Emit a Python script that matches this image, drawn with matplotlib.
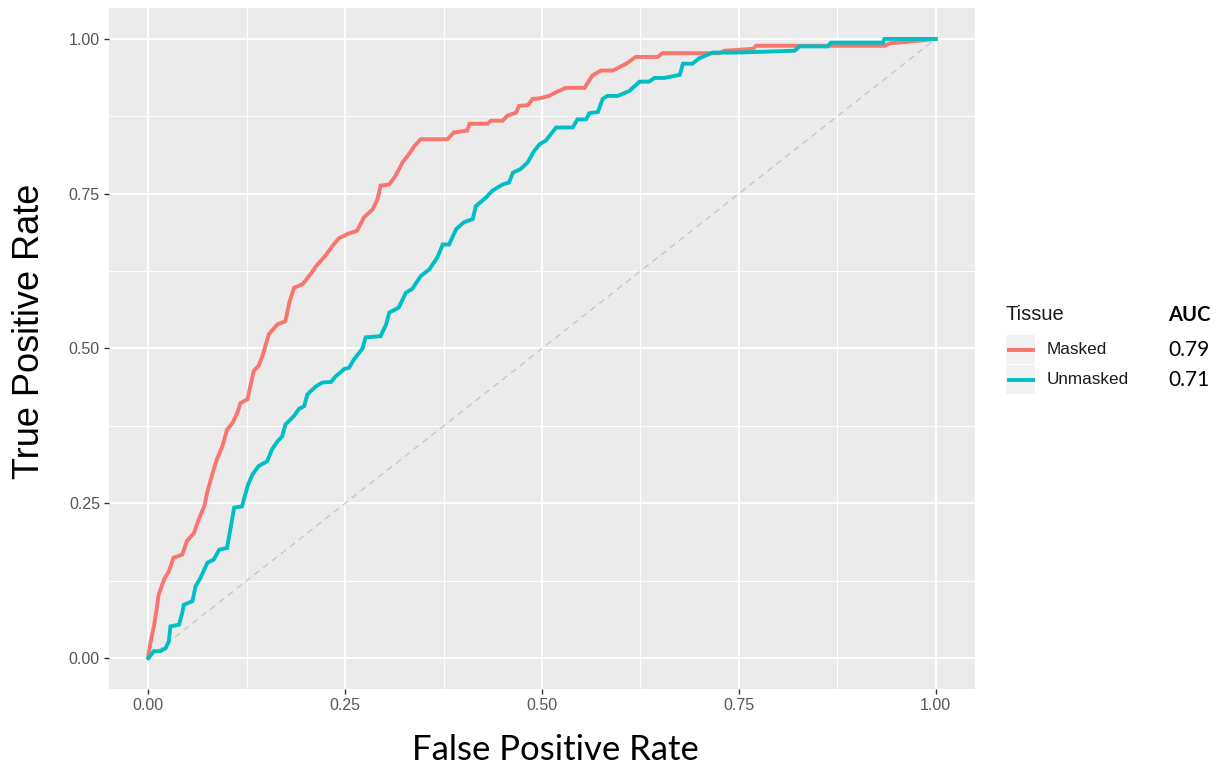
import matplotlib
matplotlib.use("Agg")
import matplotlib.pyplot as plt
from matplotlib.lines import Line2D
from matplotlib.patches import Rectangle

plt.rcParams["font.family"] = ["Liberation Sans", "DejaVu Sans"]

# ROC curve points (false positive rate, true positive rate)
masked_fpr = [0.000, 0.000, 0.003, 0.007, 0.011, 0.013, 0.020, 0.026, 0.032, 0.043, 0.049, 0.058,
              0.064, 0.071, 0.075, 0.081, 0.087, 0.094, 0.100, 0.107, 0.113, 0.117, 0.126, 0.130,
              0.134, 0.140, 0.145, 0.150, 0.153, 0.164, 0.174, 0.179, 0.185, 0.196, 0.206, 0.213,
              0.225, 0.234, 0.242, 0.253, 0.265, 0.274, 0.285, 0.291, 0.295, 0.306, 0.314, 0.323,
              0.331, 0.338, 0.346, 0.380, 0.388, 0.405, 0.408, 0.431, 0.435, 0.450, 0.456, 0.467,
              0.471, 0.482, 0.488, 0.497, 0.509, 0.518, 0.530, 0.554, 0.564, 0.575, 0.590, 0.607,
              0.619, 0.647, 0.653, 0.725, 0.732, 0.768, 0.772, 0.935, 0.942, 0.961, 1.000]
masked_tpr = [0.000, 0.005, 0.027, 0.051, 0.083, 0.102, 0.127, 0.140, 0.162, 0.167, 0.189, 0.202,
              0.224, 0.245, 0.269, 0.296, 0.321, 0.342, 0.369, 0.380, 0.396, 0.412, 0.418, 0.442,
              0.464, 0.472, 0.488, 0.510, 0.523, 0.539, 0.544, 0.574, 0.598, 0.604, 0.620, 0.633,
              0.650, 0.666, 0.678, 0.685, 0.690, 0.712, 0.725, 0.741, 0.763, 0.765, 0.779, 0.801,
              0.814, 0.827, 0.838, 0.838, 0.849, 0.852, 0.863, 0.863, 0.868, 0.868, 0.876, 0.881,
              0.892, 0.893, 0.903, 0.904, 0.908, 0.914, 0.921, 0.921, 0.941, 0.949, 0.949, 0.960,
              0.971, 0.971, 0.977, 0.977, 0.981, 0.984, 0.989, 0.989, 0.993, 0.995, 1.000]

unmasked_fpr = [0.000, 0.007, 0.015, 0.022, 0.026, 0.028, 0.039, 0.043, 0.045, 0.056, 0.060, 0.066,
                0.075, 0.083, 0.090, 0.100, 0.104, 0.109, 0.119, 0.126, 0.132, 0.140, 0.151, 0.157,
                0.164, 0.170, 0.174, 0.185, 0.191, 0.198, 0.202, 0.213, 0.221, 0.232, 0.238, 0.249,
                0.255, 0.261, 0.272, 0.276, 0.295, 0.302, 0.306, 0.318, 0.327, 0.335, 0.346, 0.357,
                0.367, 0.374, 0.382, 0.391, 0.401, 0.412, 0.416, 0.429, 0.437, 0.450, 0.458, 0.463,
                0.473, 0.482, 0.490, 0.497, 0.505, 0.518, 0.539, 0.545, 0.556, 0.560, 0.571, 0.577,
                0.583, 0.596, 0.611, 0.624, 0.636, 0.643, 0.655, 0.675, 0.679, 0.691, 0.700, 0.713,
                0.717, 0.747, 0.821, 0.827, 0.863, 0.867, 0.933, 0.935, 1.000]
unmasked_tpr = [0.000, 0.011, 0.011, 0.016, 0.027, 0.051, 0.054, 0.073, 0.086, 0.092, 0.116, 0.129,
                0.154, 0.159, 0.175, 0.178, 0.207, 0.243, 0.245, 0.278, 0.296, 0.310, 0.318, 0.337,
                0.350, 0.358, 0.377, 0.391, 0.402, 0.407, 0.426, 0.439, 0.445, 0.446, 0.455, 0.467,
                0.469, 0.482, 0.500, 0.518, 0.520, 0.539, 0.558, 0.566, 0.590, 0.596, 0.617, 0.628,
                0.647, 0.668, 0.668, 0.693, 0.704, 0.709, 0.730, 0.744, 0.755, 0.765, 0.768, 0.784,
                0.790, 0.801, 0.819, 0.830, 0.836, 0.857, 0.857, 0.870, 0.870, 0.880, 0.882, 0.903,
                0.908, 0.908, 0.916, 0.931, 0.931, 0.937, 0.937, 0.942, 0.960, 0.960, 0.969, 0.976,
                0.978, 0.978, 0.981, 0.988, 0.988, 0.994, 0.994, 1.000, 1.000]

tissues = ["Masked", "Unmasked"]
auc_values = ["0.79", "0.71"]
tick_values = [0.0, 0.25, 0.5, 0.75, 1.0]
tick_labels = ["0.00", "0.25", "0.50", "0.75", "1.00"]

colors = ["#F8766D", "#00BFC4"]

W, H = 1217, 769
fig = plt.figure(figsize=(W / 100, H / 100), dpi=100)
fig.patch.set_facecolor("white")


def fx(px):
    return px / W


def fy(py):
    return 1 - py / H


# panel in pixel coordinates: left 109, right 975, top 8, bottom 689
ax = fig.add_axes([fx(109), fy(689), fx(975) - fx(109), fy(8) - fy(689)])
ax.set_facecolor("#EBEBEB")
for s in ax.spines.values():
    s.set_visible(False)

ax.set_xlim(-0.05, 1.05)
ax.set_ylim(-0.05, 1.05)
ax.set_xticks(tick_values)
ax.set_xticklabels(tick_labels)
ax.set_yticks(tick_values)
ax.set_yticklabels(tick_labels)
minor = [0.125, 0.375, 0.625, 0.875]
ax.set_xticks(minor, minor=True)
ax.set_yticks(minor, minor=True)
ax.grid(which="major", color="white", linewidth=1.4)
ax.grid(which="minor", color="white", linewidth=0.7)
ax.set_axisbelow(True)
ax.tick_params(which="major", length=3.5, width=1.0, color="#333333",
               labelsize=11.5, labelcolor="#555555", pad=3)
ax.tick_params(which="minor", length=0)

# chance diagonal
ax.plot([0, 1], [0, 1], color="#C4C4C4", linewidth=0.9, linestyle=(0, (5, 4)), zorder=2)

ax.plot(masked_fpr, masked_tpr, color=colors[0], linewidth=2.8, solid_joinstyle="miter", zorder=3)
ax.plot(unmasked_fpr, unmasked_tpr, color=colors[1], linewidth=2.8, solid_joinstyle="miter", zorder=4)

# axis titles
fig.text(fx(30), fy(331), "True Positive Rate", rotation=90, ha="center", va="center",
         fontsize=26, family="Liberation Sans", color="black")
fig.text(fx(555), fy(750), "False Positive Rate", ha="center", va="center",
         fontsize=25, family="Lato", color="black")

# legend
fig.text(fx(1006), fy(315), "Tissue", ha="left", va="center", fontsize=14.5,
         family="Liberation Sans", color="#1a1a1a")
fig.text(fx(1168), fy(315), "AUC", ha="left", va="center", fontsize=14.5,
         family="Lato", fontweight="bold", color="black")
key_top = [335, 365]
for i, name in enumerate(tissues):
    top = key_top[i]
    fig.add_artist(Rectangle((fx(1006), fy(top + 29)), fx(29), fy(top) - fy(top + 29),
                             transform=fig.transFigure, facecolor="#F2F2F2",
                             edgecolor="none"))
    yc = top + 14.5
    fig.add_artist(Line2D([fx(1008.5), fx(1032.5)], [fy(yc), fy(yc)],
                          transform=fig.transFigure, color=colors[i], linewidth=2.8))
    fig.text(fx(1047), fy(yc), name, ha="left", va="center", fontsize=12.3,
             family="Liberation Sans", color="#1a1a1a")
    fig.text(fx(1168), fy(yc + 1), auc_values[i], ha="left", va="center", fontsize=15,
             family="Lato", color="black")

fig.savefig("out.png", dpi=100, facecolor="white")
